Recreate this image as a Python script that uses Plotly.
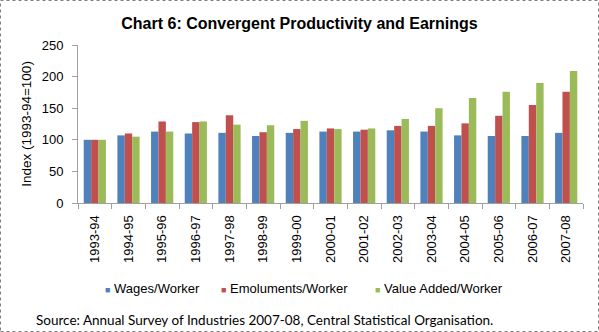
import plotly.graph_objects as go

years = ["1993-94", "1994-95", "1995-96", "1996-97", "1997-98", "1998-99", "1999-00",
         "2000-01", "2001-02", "2002-03", "2003-04", "2004-05", "2005-06", "2006-07", "2007-08"]
wages = [100, 107, 113, 110, 111, 106, 111, 113, 113, 115, 113, 107, 106, 106, 111]
emoluments = [100, 110, 129, 128, 139, 112, 117, 118, 116, 122, 122, 126, 138, 155, 176]
value_added = [100, 105, 113, 129, 124, 123, 130, 117, 118, 133, 150, 166, 176, 190, 209]

series = [
    ("Wages/Worker", wages, "#4F81BD"),
    ("Emoluments/Worker", emoluments, "#C0504D"),
    ("Value Added/Worker", value_added, "#9BBB59"),
]
legend_x = [103, 219, 373]  # pixel positions of legend entries

W, H = 599, 332
ML, MR, MT, MB = 78, 16, 45, 129
PW, PH = W - ML - MR, H - MT - MB


def px(x):
    return (x - ML) / PW


def py(y):
    return (H - MB - y) / PH


fig = go.Figure()
for name, vals, col in series:
    fig.add_trace(go.Bar(x=years, y=vals, name=name, showlegend=False,
                         marker=dict(color=col, line=dict(width=0))))

annotations = [dict(text="Source: Annual Survey of Industries 2007-08, Central Statistical Organisation.",
                    xref="paper", yref="paper", x=px(34), xanchor="left", y=py(320),
                    yanchor="middle", showarrow=False,
                    font=dict(family="Lato, Carlito, sans-serif", size=13.5))]
for (name, vals, col), lx in zip(series, legend_x):
    annotations.append(dict(text=f"<span style='color:{col};font-size:9px'>■</span> {name}",
                            xref="paper", yref="paper", x=px(lx), xanchor="left", y=py(288),
                            yanchor="middle", showarrow=False, font=dict(size=13)))

fig.update_layout(
    width=W, height=H,
    margin=dict(l=ML, r=MR, t=MT, b=MB),
    paper_bgcolor="white", plot_bgcolor="white",
    font=dict(family="Liberation Sans, Arial, sans-serif", size=13, color="black"),
    title=dict(text="<b>Chart 6: Convergent Productivity and Earnings</b>",
               x=0.5, xanchor="center", y=1 - 23 / H, yanchor="middle",
               font=dict(size=16)),
    barmode="group", bargap=0.34, bargroupgap=0,
    showlegend=False,
    xaxis=dict(type="category", showline=True, linecolor="#A0A0A0", linewidth=1, ticks="outside",
               tickson="boundaries", ticklen=5, tickcolor="#A0A0A0", tickangle=-90,
               showgrid=False, ticklabelstandoff=6),
    yaxis=dict(range=[0, 250], dtick=50, showline=True, linecolor="#A0A0A0", linewidth=1,
               ticks="outside", ticklen=5, tickcolor="#A0A0A0", showgrid=False,
               zeroline=False, ticklabelstandoff=6,
               title=dict(text="Index (1993-94=100)", font=dict(size=13.5), standoff=6)),
    shapes=[dict(type="rect", xref="paper", yref="paper", x0=px(0.5), x1=px(598.5),
                 y0=py(331.5), y1=py(0.5), line=dict(color="#808080", width=1, dash="dot"))],
    annotations=annotations,
)

fig.write_html("out.html")
